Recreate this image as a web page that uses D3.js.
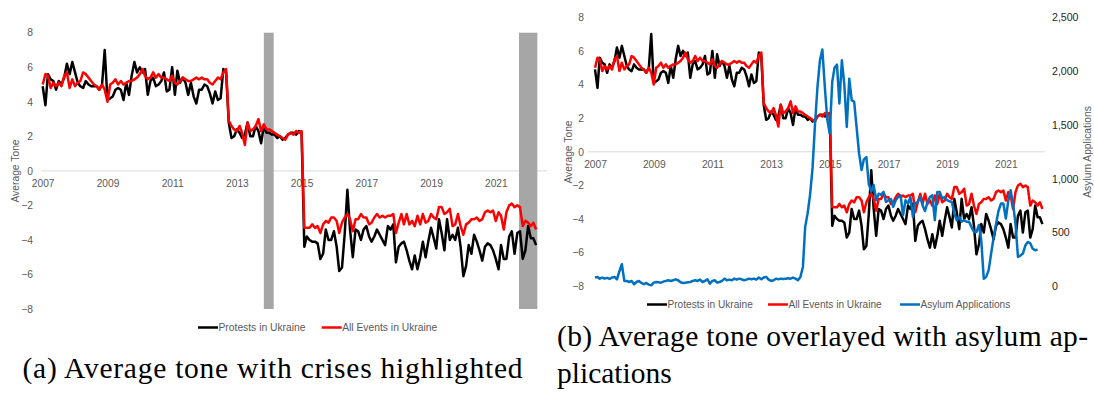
<!DOCTYPE html>
<html>
<head>
<meta charset="utf-8">
<script src="https://cdn.jsdelivr.net/npm/d3@7"></script>
<style>
  body { margin: 0; background: #fff; }
  svg text { font-family: "Liberation Sans", Arial, sans-serif; }
  .cap { font-family: "Liberation Serif", "Times New Roman", serif; fill: #000; }
</style>
</head>
<body>
<svg id="fig" width="1094" height="394"></svg>
<script>
// monthly average tone, Jan 2007 .. Apr 2022
const protests = [
  4.9, 3.8, 5.6, 5.3, 5.2, 4.7, 5.2, 5.0, 5.4, 6.2,
  5.6, 6.3, 5.7, 5.1, 4.9, 4.8, 5.2, 5.0, 4.9, 4.9,
  4.9, 4.7, 5.0, 7.0, 4.1, 4.2, 4.3, 4.7, 4.8, 4.7,
  4.1, 5.1, 4.4, 5.5, 6.3, 5.7, 6.0, 5.7, 5.9, 4.4,
  5.2, 5.4, 4.9, 5.0, 5.2, 5.7, 4.6, 4.7, 6.0, 4.4,
  5.8, 5.1, 5.4, 5.1, 4.4, 5.1, 4.3, 3.9, 4.7, 4.7,
  5.0, 4.9, 4.5, 3.9, 4.6, 4.1, 4.2, 5.9, 5.7, 2.8,
  1.9, 2.0, 2.4, 2.2, 1.9, 2.1, 2.8, 2.0, 2.0, 2.6,
  2.3, 1.6, 2.6, 2.2, 2.2, 2.1, 2.1, 1.9, 2.0, 1.8,
  1.9, 2.1, 2.2, 2.2, 2.1, 2.3, 2.2,
  -4.4, -3.8, -4.0, -4.1, -4.1, -4.2, -5.1, -4.8, -3.4, -4.0,
  -4.0, -3.5, -4.4, -5.8, -5.6, -3.7, -1.1, -3.4, -5.0, -3.4,
  -3.5, -4.0, -3.4, -3.2, -3.8, -4.1, -3.8, -3.4, -3.7, -4.0,
  -4.3, -3.2, -3.4, -3.1, -5.3, -4.4, -4.2, -4.1, -4.6, -5.2,
  -5.7, -4.9, -5.7, -5.0, -4.1, -5.0, -4.1, -3.3, -3.9, -4.5,
  -2.8, -3.6, -4.6, -2.8, -4.0, -3.7, -4.0, -3.3, -4.4, -6.1,
  -5.5, -4.3, -4.8, -3.7, -4.1, -4.6, -5.2, -4.4, -4.2, -4.3,
  -4.6, -5.1, -5.7, -4.3, -5.1, -5.1, -3.8, -3.5, -4.8, -3.6,
  -3.5, -5.1, -4.6, -3.2, -3.9, -3.9, -4.3
];
const allEvents = [
  5.0, 5.6, 5.5, 4.8, 5.1, 4.9, 5.1, 4.9, 5.5, 5.7,
  4.8, 5.3, 4.9, 5.1, 5.2, 5.7, 5.6, 5.4, 5.2, 5.0,
  4.9, 4.7, 5.0, 4.7, 4.0, 5.0, 5.1, 5.3, 5.0, 5.2,
  5.0, 5.1, 5.2, 5.2, 5.3, 5.4, 5.6, 5.9, 5.5, 5.3,
  5.4, 5.7, 5.4, 5.6, 5.4, 5.4, 5.3, 5.2, 5.5, 5.1,
  5.0, 5.2, 5.4, 5.3, 5.2, 5.2, 5.3, 5.4, 5.3, 5.4,
  5.3, 5.3, 5.1, 5.0, 5.2, 5.4, 5.3, 5.7, 5.9, 2.9,
  2.6, 2.4, 2.3, 2.6, 2.2, 1.5, 2.8, 2.3, 2.4, 2.6,
  3.0, 2.3, 2.7, 2.4, 2.4, 2.3, 2.2, 2.1, 2.0, 1.9,
  1.8, 2.1, 2.2, 2.1, 2.3, 2.2, 2.3,
  -3.3, -3.3, -3.3, -3.1, -3.3, -3.2, -3.6, -3.1, -2.9, -3.0,
  -2.7, -2.7, -2.9, -3.6, -3.0, -2.7, -2.5, -2.8, -3.5, -2.8,
  -2.8, -2.5, -2.7, -2.7, -3.1, -3.0, -2.7, -2.5, -2.7, -2.6,
  -2.7, -2.6, -2.6, -2.5, -3.6, -3.0, -2.5, -3.1, -2.5, -3.1,
  -2.9, -3.2, -2.6, -3.1, -2.5, -3.0, -2.9, -2.5, -2.7, -2.8,
  -2.1, -2.1, -2.5, -2.4, -2.2, -3.2, -3.1, -2.5, -3.2, -3.7,
  -3.1, -3.0, -2.8, -2.8, -2.7, -2.9, -2.8, -2.4, -2.3, -2.4,
  -2.3, -2.9, -2.4, -2.6, -3.4, -2.4, -2.0, -1.9, -2.1, -2.0,
  -2.1, -3.2, -2.9, -3.0, -3.2, -3.0, -3.4
];
// monthly asylum applications, Jan 2007 .. Feb 2022
const asylum = [
  81, 87, 71, 81, 71, 78, 68, 81, 87, 65,
  140, 205, 50, 50, 40, 50, 19, 40, 50, 31,
  19, 31, 16, 9, 34, 40, 37, 34, 43, 50,
  56, 50, 56, 65, 56, 37, 31, 34, 37, 40,
  50, 56, 50, 62, 40, 50, 65, 25, 50, 56,
  34, 40, 50, 71, 56, 62, 56, 71, 62, 71,
  65, 56, 62, 71, 65, 71, 62, 81, 65, 81,
  87, 62, 50, 56, 71, 65, 71, 68, 71, 74,
  71, 81, 71, 56, 87, 180, 550, 680, 850, 1100,
  1500, 1850, 2100, 2200, 1850, 1550, 1420, 1900, 2030, 2060,
  1700, 2100, 1880, 1480, 1930, 1730, 1715, 1480, 1235, 1080,
  1180, 1200, 950, 880, 940, 800, 860, 850, 877, 785,
  800, 810, 738, 800, 830, 846, 660, 800, 770, 830,
  645, 770, 785, 830, 753, 700, 780, 830, 846, 614,
  877, 877, 815, 830, 800, 790, 784, 675, 614, 645,
  600, 614, 600, 600, 550, 505, 505, 570, 428, 71,
  87, 150, 300, 450, 580, 700, 769, 769, 630, 800,
  893, 769, 580, 273, 285, 304, 380, 412, 400, 350,
  335, 341
];
const toneTicks = [-8, -6, -4, -2, 0, 2, 4, 6, 8];
const asylumTicks = [0, 500, 1000, 1500, 2000, 2500];
const yearTicks = [2007, 2009, 2011, 2013, 2015, 2017, 2019, 2021];
const crisisStart = ["2013-11-01", "2021-09-20"];
const crisisEnd = ["2014-02-20", "2022-04-15"];
const names = ["Protests in Ukraine", "All Events in Ukraine", "Asylum Applications"];
const colors = ["#000000", "#ff0000", "#0070c0"];

const months = d3.timeMonths(new Date(2007, 0, 1), new Date(2022, 4, 1));
const parse = d3.timeParse("%Y-%m-%d");
const svg = d3.select("#fig");
const grey = "#595959";

function drawPanel(c) {
  const g = svg.append("g");
  const x = d3.scaleTime().domain([months[0], months[months.length - 1]]).range(c.xr);
  const y = d3.scaleLinear().domain([-8, 8]).range(c.yr);

  // zero line
  g.append("line")
    .attr("x1", c.zero[0]).attr("x2", c.zero[1])
    .attr("y1", y(0)).attr("y2", y(0))
    .attr("stroke", "#d9d9d9").attr("stroke-width", 1);

  const xAxis = d3.axisBottom(x)
    .tickValues(yearTicks.map(d => new Date(d, 0, 1)))
    .tickFormat(d3.timeFormat("%Y"))
    .tickSize(0).tickPadding(8.7);
  g.append("g")
    .attr("transform", `translate(0,${y(0)})`)
    .call(xAxis)
    .call(a => a.select(".domain").remove())
    .call(a => a.selectAll("text").attr("fill", grey).attr("font-size", 10.2).attr("font-family", null));

  const yAxis = d3.axisLeft(y).tickValues(toneTicks).tickSize(0).tickPadding(0);
  g.append("g")
    .attr("transform", `translate(${c.yAxisX},0)`)
    .call(yAxis)
    .call(a => a.select(".domain").remove())
    .call(a => a.selectAll("text").attr("fill", grey).attr("font-size", 10.3).attr("font-family", null));

  g.append("text")
    .attr("transform", `translate(${c.yTitle[0]},${c.yTitle[1]}) rotate(-90)`)
    .attr("dy", "0.35em").attr("text-anchor", "middle")
    .attr("font-size", 10.3).attr("fill", grey)
    .text("Average Tone");

  if (c.bands) {
    g.append("g").selectAll("rect")
      .data(d3.zip(crisisStart, crisisEnd))
      .join("rect")
      .attr("x", d => x(parse(d[0])))
      .attr("width", d => x(parse(d[1])) - x(parse(d[0])))
      .attr("y", y(8)).attr("height", y(-8) - y(8))
      .attr("fill", "#a6a6a6");
  }

  const line = d3.line().x((d, i) => x(months[i])).y(d => y(d));
  [protests, allEvents].forEach((s, k) => {
    g.append("path").datum(s)
      .attr("d", line)
      .attr("fill", "none").attr("stroke", colors[k])
      .attr("stroke-width", 2.5).attr("stroke-linejoin", "round");
  });

  if (c.asylum) {
    const y2 = d3.scaleLinear().domain([0, 2500]).range(c.yr);
    const rAxis = d3.axisRight(y2).tickValues(asylumTicks).tickFormat(d3.format(",")).tickSize(0).tickPadding(0);
    g.append("g")
      .attr("transform", `translate(${c.rAxisX},0)`)
      .call(rAxis)
      .call(a => a.select(".domain").remove())
      .call(a => a.selectAll("text").attr("fill", "#262626").attr("font-size", 10.6).attr("font-family", null));
    g.append("text")
      .attr("transform", `translate(${c.rTitle[0]},${c.rTitle[1]}) rotate(-90)`)
      .attr("dy", "0.35em").attr("text-anchor", "middle")
      .attr("font-size", 10.3).attr("fill", grey)
      .text("Asylum Applications");
    const line2 = d3.line().x((d, i) => x(months[i])).y(d => y2(d));
    g.append("path").datum(asylum)
      .attr("d", line2)
      .attr("fill", "none").attr("stroke", colors[2])
      .attr("stroke-width", 2.5).attr("stroke-linejoin", "round");
  }

  // legend
  const lg = g.append("g").selectAll("g")
    .data(c.legendX)
    .join("g")
    .attr("transform", d => `translate(${d},${c.legendY})`);
  lg.append("line").attr("x1", 0).attr("x2", 20)
    .attr("stroke", (d, i) => colors[i]).attr("stroke-width", 2.5);
  lg.append("text").attr("x", 20.5).attr("dy", "0.35em")
    .attr("font-size", c.legendSize).attr("fill", grey)
    .text((d, i) => names[i]);
}

drawPanel({
  xr: [42.7, 536.1], yr: [309, 32.7], zero: [41.5, 547],
  yAxisX: 33, yTitle: [15, 171], bands: true,
  legendX: [198, 321.7], legendY: 327.5, legendSize: 10.3
});

drawPanel({
  xr: [595, 1042.4], yr: [286.3, 17.3], zero: [588, 1045],
  yAxisX: 584, yTitle: [568.5, 152], asylum: true,
  rAxisX: 1052, rTitle: [1087, 152],
  legendX: [647, 768, 900], legendY: 304.5, legendSize: 10.1
});

// captions
svg.append("text").attr("class", "cap")
  .attr("x", 22.5).attr("y", 378).attr("font-size", 29.5)
  .attr("textLength", 500).attr("lengthAdjust", "spacing")
  .text("(a) Average tone with crises highlighted");
svg.append("text").attr("class", "cap")
  .attr("x", 557).attr("y", 345.5).attr("font-size", 29.5)
  .attr("textLength", 531).attr("lengthAdjust", "spacing")
  .text("(b) Average tone overlayed with asylum ap-");
svg.append("text").attr("class", "cap")
  .attr("x", 557).attr("y", 383).attr("font-size", 29.5)
  .text("plications");
</script>
</body>
</html>
